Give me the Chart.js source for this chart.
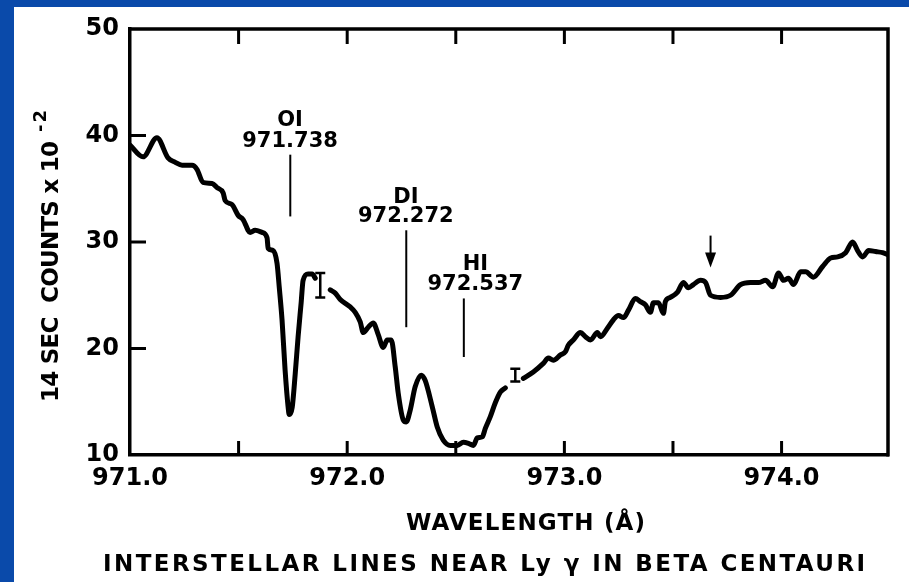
<!DOCTYPE html>
<html><head><meta charset="utf-8">
<script src="https://cdn.jsdelivr.net/npm/chart.js@4.4.1/dist/chart.umd.min.js"></script>
<style>
html,body{margin:0;padding:0;background:#fff;}
#wrap{position:relative;width:909px;height:582px;overflow:hidden;background:#fff;}
#c{position:absolute;left:0;top:0;}
.strip{position:absolute;background:#0a4aaa;}
</style></head><body>
<div id="wrap">
<canvas id="c" width="909" height="582"></canvas>
<div class="strip" style="left:0;top:0;width:909px;height:7px"></div>
<div class="strip" style="left:0;top:0;width:14px;height:582px"></div>
</div>
<script>
// ---- data (wavelength in Å, counts in units of 100 per 14 s); null = gap in trace
const wavelength = [
  971.000, 971.060, 971.124, 971.175, 971.207, 971.240, 971.286, 971.309, 971.336, 971.378,
  971.401, 971.429, 971.438, 971.470, 971.498, 971.521, 971.553, 971.576, 971.608, 971.631,
  971.636, 971.659, 971.677, 971.687, 971.700, 971.714, 971.728, 971.733, 971.747, 971.761,
  971.774, 971.788, 971.797, 971.820, 971.839, 971.853,
  971.885,
  971.922, 971.945, 971.968, 972.014, 972.037, 972.060, 972.074, 972.097, 972.120, 972.143,
  972.166, 972.184, 972.203, 972.221, 972.235, 972.258, 972.272, 972.290, 972.313, 972.341,
  972.359, 972.392, 972.415, 972.442, 972.475, 972.507, 972.535, 972.558, 972.581, 972.599,
  972.622, 972.636, 972.659, 972.682, 972.705, 972.728,
  972.770,
  972.811, 972.857, 972.903, 972.926, 972.949, 972.982, 973.005, 973.018, 973.041, 973.074,
  973.097, 973.120, 973.152, 973.166, 973.198, 973.226, 973.249, 973.272, 973.295, 973.327,
  973.350, 973.373, 973.396, 973.410, 973.433, 973.456, 973.465, 973.488, 973.521, 973.548,
  973.571, 973.594, 973.627, 973.650, 973.673, 973.719, 973.765, 973.811, 973.857, 973.894,
  973.926, 973.959, 973.986, 974.009, 974.032, 974.055, 974.088, 974.111, 974.147, 974.189,
  974.226, 974.258, 974.295, 974.327, 974.350, 974.373, 974.401, 974.433, 974.465, 974.490
];
const counts = [
  39.1, 38.0, 39.8, 37.9, 37.5, 37.2, 37.2, 36.8, 35.6, 35.5,
  35.1, 34.6, 33.9, 33.5, 32.5, 32.1, 30.9, 31.1, 30.9, 30.4,
  29.4, 29.2, 28.0, 25.8, 22.7, 18.0, 14.5, 13.8, 14.5, 17.7,
  21.1, 24.3, 26.4, 27.0, 27.0, 26.6,
  null,
  25.5, 25.2, 24.6, 23.9, 23.4, 22.5, 21.5, 22.0, 22.4, 21.3,
  20.1, 20.8, 20.8, 18.3, 15.8, 13.3, 13.1, 14.2, 16.4, 17.5,
  17.0, 14.5, 12.6, 11.4, 10.9, 10.9, 11.2, 11.1, 10.9, 11.6,
  11.7, 12.5, 13.6, 14.9, 15.9, 16.3,
  null,
  17.2, 17.8, 18.6, 19.1, 18.9, 19.4, 19.7, 20.3, 20.8, 21.5,
  21.1, 20.8, 21.5, 21.1, 21.9, 22.7, 23.1, 22.9, 23.6, 24.7,
  24.4, 24.1, 23.4, 24.3, 24.3, 23.3, 24.4, 24.8, 25.3, 26.2,
  25.7, 26.0, 26.4, 26.2, 25.0, 24.8, 25.0, 26.0, 26.2, 26.2,
  26.4, 25.8, 27.1, 26.4, 26.6, 26.0, 27.2, 27.2, 26.7, 27.7,
  28.5, 28.6, 29.0, 30.0, 29.2, 28.6, 29.2, 29.1, 29.0, 28.8
];
// error bars ("I" marks)
const errWavelength = [971.876, 972.774];
const errLow = [24.8, 16.9];
const errHigh = [27.1, 18.1];
// identified interstellar lines
const lineIons = ['OI', 'DI', 'HI'];
const lineWavelengths = ['971.738', '972.272', '972.537'];
// axis tick definitions
const xMin = 971.0, xMax = 974.49, xStep = 0.5;
const yMin = 10, yMax = 50, yStep = 10;
// titles
const yTitle = '14 SEC  COUNTS x 10';
const yTitleSup = '-2';
const xTitle = 'WAVELENGTH (Å)';
const caption = 'INTERSTELLAR LINES NEAR Ly γ IN BETA CENTAURI';
const arrowWavelength = 973.673;

// ---- presentation
const FONT = "'DejaVu Sans', 'Liberation Sans', sans-serif";
// annotation placement (counts units) for the line markers
const markerLayout = [
  { labelX: 971.737, nameY: 41.4, valY: 39.4, top: 38.2, bottom: 32.4 },
  { labelX: 972.270, nameY: 34.2, valY: 32.4, top: 31.1, bottom: 22.0 },
  { labelX: 972.590, nameY: 27.9, valY: 26.0, top: 24.7, bottom: 19.2 }
];

function spaced(ctx, text, left, y, targetW) {
  ctx.save();
  if ('letterSpacing' in ctx) ctx.letterSpacing = '0px';
  const n = [...text].length;
  const w0 = ctx.measureText(text).width;
  ctx.textAlign = 'left';
  if ('letterSpacing' in ctx && n > 1) {
    const sp = (targetW - w0) / (n - 1);
    ctx.letterSpacing = sp.toFixed(2) + 'px';
    ctx.fillText(text, left, y);
  } else {
    ctx.translate(left, y);
    ctx.scale(targetW / w0, 1);
    ctx.fillText(text, 0, 0);
  }
  ctx.restore();
}

const decor = {
  id: 'decor',
  beforeDatasetsDraw(chart) {
    const { ctx, chartArea: a, scales: { x, y } } = chart;
    ctx.save();
    ctx.strokeStyle = '#000';
    ctx.lineCap = 'butt';
    ctx.lineWidth = 3.5;
    ctx.beginPath();
    ctx.moveTo(a.left - 1.5, a.top); ctx.lineTo(a.right, a.top); ctx.lineTo(a.right, a.bottom + 1.5);
    ctx.stroke();
    ctx.lineWidth = 3;
    x.ticks.forEach(t => {
      if (t.value <= xMin + 1e-6 || t.value >= xMax - 1e-6) return;
      const px = x.getPixelForValue(t.value);
      ctx.beginPath();
      ctx.moveTo(px, a.bottom); ctx.lineTo(px, a.bottom - 14);
      ctx.moveTo(px, a.top); ctx.lineTo(px, a.top + 15);
      ctx.stroke();
    });
    y.ticks.forEach(t => {
      if (t.value <= yMin || t.value >= yMax) return;
      const py = y.getPixelForValue(t.value);
      ctx.beginPath();
      ctx.moveTo(a.left, py); ctx.lineTo(a.left + 16, py);
      ctx.stroke();
    });
    ctx.restore();
  },
  afterDraw(chart) {
    const { ctx, scales: { x, y } } = chart;
    ctx.save();
    ctx.fillStyle = '#000';
    ctx.strokeStyle = '#000';
    ctx.textAlign = 'center';
    ctx.textBaseline = 'middle';
    lineIons.forEach((ion, i) => {
      const m = markerLayout[i];
      const lx = x.getPixelForValue(parseFloat(lineWavelengths[i]));
      ctx.lineWidth = 2;
      ctx.beginPath();
      ctx.moveTo(lx, y.getPixelForValue(m.top));
      ctx.lineTo(lx, y.getPixelForValue(m.bottom));
      ctx.stroke();
      const tx = x.getPixelForValue(m.labelX);
      ctx.font = 'bold 21px ' + FONT;
      ctx.fillText(ion, tx, y.getPixelForValue(m.nameY));
      ctx.fillText(lineWavelengths[i], tx, y.getPixelForValue(m.valY));
    });
    ctx.lineWidth = 2.5;
    errWavelength.forEach((w, i) => {
      const px = x.getPixelForValue(w);
      const p1 = y.getPixelForValue(errLow[i]);
      const p2 = y.getPixelForValue(errHigh[i]);
      ctx.beginPath();
      ctx.moveTo(px, p1); ctx.lineTo(px, p2);
      ctx.moveTo(px - 5, p1); ctx.lineTo(px + 5, p1);
      ctx.moveTo(px - 5, p2); ctx.lineTo(px + 5, p2);
      ctx.stroke();
    });
    const ax = x.getPixelForValue(arrowWavelength);
    const aTop = y.getPixelForValue(30.6), aTip = y.getPixelForValue(27.6);
    ctx.lineWidth = 2;
    ctx.beginPath(); ctx.moveTo(ax, aTop); ctx.lineTo(ax, aTip - 8); ctx.stroke();
    ctx.beginPath(); ctx.moveTo(ax - 5.5, aTip - 15); ctx.lineTo(ax + 5.5, aTip - 15); ctx.lineTo(ax, aTip); ctx.closePath(); ctx.fill();
    ctx.textBaseline = 'alphabetic';
    ctx.font = 'bold 23px ' + FONT;
    spaced(ctx, xTitle, 406, 530, 239);
    spaced(ctx, caption, 103, 571, 762);
    ctx.translate(58, 402);
    ctx.rotate(-Math.PI / 2);
    ctx.font = 'bold 23px ' + FONT;
    spaced(ctx, yTitle, 0, 0, 261);
    ctx.font = 'bold 18px ' + FONT;
    spaced(ctx, yTitleSup, 270, -12, 22);
    ctx.restore();
  }
};

const tickFont = { family: FONT, size: 24, weight: 'bold' };
new Chart(document.getElementById('c'), {
  type: 'scatter',
  data: {
    datasets: [{
      data: wavelength.map((w, i) => ({ x: w, y: counts[i] })),
      showLine: true,
      borderColor: '#000',
      borderWidth: 5,
      borderCapStyle: 'round',
      borderJoinStyle: 'round',
      pointRadius: 0,
      spanGaps: false,
      cubicInterpolationMode: 'monotone',
      fill: false
    }]
  },
  options: {
    responsive: false,
    animation: false,
    devicePixelRatio: 1,
    layout: { padding: { left: 0, top: 29, right: 21, bottom: 0 } },
    plugins: { legend: { display: false }, tooltip: { enabled: false } },
    scales: {
      x: {
        type: 'linear', min: xMin, max: xMax,
        grid: { display: false, drawTicks: false },
        border: { display: true, color: '#000', width: 3.5 },
        ticks: {
          stepSize: xStep, includeBounds: false, autoSkip: false, maxRotation: 0, minRotation: 0,
          padding: 9, color: '#000', font: tickFont,
          callback: v => Math.abs(v - Math.round(v)) < 1e-6 ? v.toFixed(1) : ''
        },
        afterFit: s => { s.height = 127; }
      },
      y: {
        type: 'linear', min: yMin, max: yMax,
        grid: { display: false, drawTicks: false },
        border: { display: true, color: '#000', width: 3.5 },
        ticks: { stepSize: yStep, padding: 11, color: '#000', font: tickFont },
        afterFit: s => { s.width = 130; }
      }
    }
  },
  plugins: [decor]
});
</script>
</body></html>
